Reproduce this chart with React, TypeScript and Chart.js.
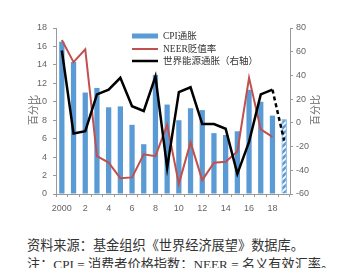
import React, { useEffect, useRef } from "react";
import { Chart, registerables } from "chart.js";

Chart.register(...registerables);

const years = ["2000","2001","2002","2003","2004","2005","2006","2007","2008","2009","2010","2011","2012","2013","2014","2015","2016","2017","2018","2019"];
const tickLabels = ["2000","","2","","4","","6","","8","","10","","12","","14","","16","","18",""];
const cpi = [16.5, 14.3, 11.0, 11.5, 9.4, 9.5, 7.5, 5.4, 12.9, 9.7, 8.0, 9.3, 9.1, 6.6, 6.4, 6.8, 11.3, 10.0, 8.5, 8.1];
const neer = [16.7, 14.3, 15.7, 4.1, 3.4, 1.7, 1.8, 4.3, 4.1, 7.5, 1.1, 5.6, 1.5, 3.4, 3.5, 4.6, 12.6, 7.0, 6.2, null];
const energy = [61, -9, -7, 24, 28, 38, 14, 10, 39, -38, 26, 30, -1, -1, -5, -43, -16, 24, 28, -15];
const legendLabels = ["CPI通胀", "NEER贬值率", "世界能源通胀（右轴）"];
const axisTitle = "百分比";
const sourceLine = "资料来源：基金组织《世界经济展望》数据库。";
const noteLine = "注：CPI = 消费者价格指数；NEER = 名义有效汇率。";

const BLUE = "#5B9BD5";
const RED = "#C0504D";
const TICK_FONT = { family: "'Liberation Sans', Arial, sans-serif", size: 9 };
const TICK_COLOR = "#666666";

function makePattern(): CanvasPattern | string {
  const c = document.createElement("canvas");
  c.width = 6;
  c.height = 6;
  const g = c.getContext("2d");
  if (!g) return BLUE;
  g.fillStyle = BLUE;
  g.fillRect(0, 0, 6, 6);
  g.strokeStyle = "#ffffff";
  g.lineWidth = 1.6;
  g.beginPath();
  g.moveTo(0, 6);
  g.lineTo(6, 0);
  g.moveTo(-3, 3);
  g.lineTo(3, -3);
  g.moveTo(3, 9);
  g.lineTo(9, 3);
  g.stroke();
  const p = g.createPattern(c, "repeat");
  return p || BLUE;
}

const overlayPlugin = {
  id: "overlay",
  afterDraw(chart: any) {
    const ctx = chart.ctx;
    const a = chart.chartArea;
    ctx.save();
    // legend
    const x0 = a.left + 76;
    const rows = [a.top + 8, a.top + 21, a.top + 33];
    ctx.fillStyle = BLUE;
    ctx.fillRect(x0, rows[0] - 2.5, 26, 5);
    ctx.strokeStyle = RED;
    ctx.lineWidth = 2;
    ctx.beginPath();
    ctx.moveTo(x0, rows[1]);
    ctx.lineTo(x0 + 26, rows[1]);
    ctx.stroke();
    ctx.strokeStyle = "#000";
    ctx.lineWidth = 2.5;
    ctx.beginPath();
    ctx.moveTo(x0, rows[2]);
    ctx.lineTo(x0 + 26, rows[2]);
    ctx.stroke();
    ctx.fillStyle = "#333";
    ctx.font = "9.5px 'Liberation Serif', 'Noto Sans CJK SC', serif";
    ctx.textBaseline = "middle";
    ctx.textAlign = "left";
    legendLabels.forEach((t, i) => ctx.fillText(t, x0 + 31, rows[i]));
    // axis titles
    ctx.font = "10px 'Noto Sans CJK SC', sans-serif";
    ctx.fillStyle = "#666";
    ctx.textAlign = "center";
    const cy = 110;
    [33, a.right + 25].forEach((x) => {
      ctx.save();
      ctx.translate(x, cy);
      ctx.rotate(-Math.PI / 2);
      ctx.fillText(axisTitle, 0, 0);
      ctx.restore();
    });
    ctx.restore();
  },
};

export default function App() {
  const ref = useRef<HTMLCanvasElement | null>(null);
  useEffect(() => {
    document.body.style.margin = "0";
    const canvas = ref.current;
    if (!canvas) return;
    const pattern = makePattern();
    const barColors = cpi.map((_, i) => (i === cpi.length - 1 ? pattern : BLUE));
    const chart = new Chart(canvas, {
      data: {
        labels: years,
        datasets: [
          {
            type: "line",
            label: legendLabels[2],
            data: energy,
            yAxisID: "y1",
            borderColor: "#000",
            borderWidth: 2.5,
            pointRadius: 0,
            tension: 0,
            segment: {
              borderDash: (c: any) => (c.p1DataIndex === energy.length - 1 ? [4, 3] : undefined),
            },
            order: 1,
          } as any,
          {
            type: "line",
            label: legendLabels[1],
            data: neer,
            yAxisID: "y",
            borderColor: RED,
            borderWidth: 2,
            pointRadius: 0,
            tension: 0,
            order: 2,
          } as any,
          {
            type: "bar",
            label: legendLabels[0],
            data: cpi,
            yAxisID: "y",
            backgroundColor: barColors,
            borderColor: BLUE,
            borderWidth: cpi.map((_, i) => (i === cpi.length - 1 ? 1 : 0)),
            categoryPercentage: 0.9,
            barPercentage: 0.5,
            order: 3,
          } as any,
        ],
      },
      options: {
        responsive: false,
        animation: false,
        layout: { padding: { top: 28, left: 0, right: 0, bottom: 0 } },
        plugins: { legend: { display: false }, tooltip: { enabled: false } },
        scales: {
          x: {
            offset: true,
            grid: { drawOnChartArea: false, tickLength: 3, color: "#999" },
            border: { color: "#999" },
            ticks: {
              autoSkip: false,
              maxRotation: 0,
              padding: 6,
              color: TICK_COLOR,
              font: TICK_FONT,
              callback: (_v: any, i: number) => tickLabels[i],
            },
            afterFit: (s: any) => { s.height = 31; },
          },
          y: {
            position: "left",
            min: 0,
            max: 18,
            grid: { drawOnChartArea: false, tickLength: 3, color: "#999" },
            border: { color: "#999" },
            ticks: { stepSize: 2, padding: 6, color: TICK_COLOR, font: TICK_FONT },
            afterFit: (s: any) => { s.width = 56; },
          },
          y1: {
            position: "right",
            min: -60,
            max: 80,
            grid: { drawOnChartArea: false, tickLength: 3, color: "#999" },
            border: { color: "#999" },
            ticks: { stepSize: 20, padding: 3, color: TICK_COLOR, font: TICK_FONT },
            afterFit: (s: any) => { s.width = 73; },
          },
        },
      } as any,
      plugins: [overlayPlugin],
    });
    return () => chart.destroy();
  }, []);

  const textStyle: React.CSSProperties = {
    position: "absolute",
    left: 27,
    margin: 0,
    fontSize: 13.2,
    lineHeight: "15px",
    whiteSpace: "nowrap",
    color: "#333",
    fontFamily: "'Liberation Serif', 'Noto Sans CJK SC', serif",
  };

  return (
    <div style={{ position: "relative", width: 363, height: 268, overflow: "hidden", background: "#fff" }}>
      <canvas ref={ref} width={363} height={225} style={{ display: "block", width: 363, height: 225 }} />
      <div style={{ ...textStyle, top: 238 }}>{sourceLine}</div>
      <div style={{ ...textStyle, top: 257 }}>{noteLine}</div>
    </div>
  );
}
